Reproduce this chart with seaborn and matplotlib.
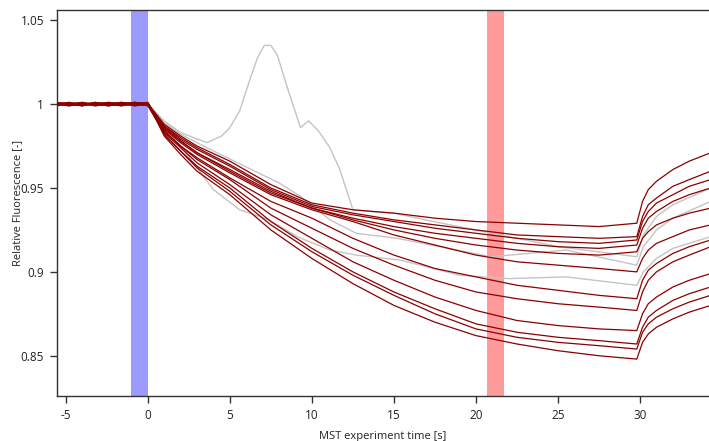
import numpy as np
import pandas as pd
import matplotlib
matplotlib.use("Agg")
import matplotlib.pyplot as plt
import seaborn as sns

# ---- data ----
red_times = [-5.6, -4.8, -4.0, -3.2, -2.4, -1.6, -0.8, 0.0,
             0.5, 1.0, 2.0, 3.0, 5.0, 7.5, 10.0, 12.5, 15.0, 17.5,
             20.0, 22.5, 25.0, 27.5, 29.8, 30.15, 30.5, 31.0, 32.0, 33.0, 34.3]

red_traces = {
    "R1":  [1.000, 1.001, 0.999, 1.001, 1.000, 0.999, 1.001, 1.000, 0.994, 0.988, 0.981, 0.975, 0.966, 0.952, 0.941, 0.937, 0.935, 0.932, 0.930, 0.929, 0.928, 0.927, 0.929, 0.942, 0.949, 0.954, 0.961, 0.966, 0.971],
    "R2":  [1.000, 0.999, 1.000, 1.000, 1.001, 1.000, 1.000, 1.000, 0.994, 0.987, 0.980, 0.974, 0.964, 0.950, 0.940, 0.935, 0.931, 0.928, 0.925, 0.922, 0.921, 0.920, 0.921, 0.933, 0.940, 0.944, 0.951, 0.955, 0.960],
    "R3":  [0.999, 1.000, 1.001, 1.000, 0.999, 1.001, 1.000, 1.001, 0.993, 0.987, 0.979, 0.973, 0.963, 0.949, 0.939, 0.934, 0.930, 0.926, 0.923, 0.920, 0.918, 0.917, 0.919, 0.930, 0.936, 0.941, 0.946, 0.951, 0.955],
    "R4":  [1.000, 1.000, 1.000, 0.999, 1.000, 1.000, 1.001, 1.000, 0.993, 0.986, 0.978, 0.971, 0.961, 0.948, 0.938, 0.932, 0.927, 0.923, 0.920, 0.917, 0.915, 0.914, 0.916, 0.926, 0.932, 0.936, 0.942, 0.946, 0.950],
    "R5":  [1.001, 1.000, 0.999, 1.000, 1.000, 1.001, 0.999, 1.000, 0.993, 0.986, 0.978, 0.971, 0.960, 0.947, 0.938, 0.931, 0.925, 0.920, 0.916, 0.913, 0.911, 0.910, 0.912, 0.920, 0.924, 0.928, 0.932, 0.935, 0.938],
    "R6":  [1.000, 1.000, 1.000, 1.001, 0.999, 1.000, 1.000, 1.001, 0.993, 0.985, 0.977, 0.970, 0.959, 0.946, 0.937, 0.930, 0.922, 0.916, 0.910, 0.906, 0.904, 0.902, 0.900, 0.908, 0.913, 0.917, 0.921, 0.925, 0.928],
    "R7":  [1.000, 1.001, 1.000, 1.000, 1.000, 0.999, 1.000, 1.000, 0.992, 0.984, 0.975, 0.968, 0.956, 0.942, 0.932, 0.920, 0.910, 0.902, 0.897, 0.892, 0.889, 0.886, 0.884, 0.895, 0.901, 0.905, 0.911, 0.915, 0.919],
    "R8":  [0.999, 1.000, 1.000, 1.000, 1.001, 1.000, 1.001, 1.000, 0.992, 0.984, 0.975, 0.967, 0.955, 0.938, 0.926, 0.914, 0.904, 0.895, 0.888, 0.884, 0.881, 0.879, 0.877, 0.888, 0.895, 0.900, 0.906, 0.910, 0.915],
    "R9":  [1.000, 1.000, 1.001, 0.999, 1.000, 1.000, 0.999, 1.000, 0.992, 0.983, 0.974, 0.965, 0.952, 0.934, 0.920, 0.906, 0.895, 0.885, 0.877, 0.871, 0.868, 0.866, 0.865, 0.875, 0.881, 0.885, 0.891, 0.895, 0.899],
    "R10": [1.000, 0.999, 1.000, 1.000, 1.000, 1.001, 1.000, 1.000, 0.991, 0.982, 0.972, 0.963, 0.950, 0.930, 0.914, 0.900, 0.888, 0.878, 0.869, 0.864, 0.861, 0.859, 0.857, 0.867, 0.873, 0.877, 0.883, 0.887, 0.891],
    "R11": [1.001, 1.000, 1.000, 1.000, 0.999, 1.000, 1.000, 0.999, 0.991, 0.982, 0.972, 0.962, 0.948, 0.928, 0.912, 0.898, 0.886, 0.875, 0.866, 0.861, 0.858, 0.856, 0.854, 0.864, 0.869, 0.873, 0.878, 0.882, 0.886],
    "R12": [1.000, 1.000, 0.999, 1.001, 1.000, 1.000, 1.001, 1.000, 0.991, 0.981, 0.970, 0.960, 0.946, 0.925, 0.908, 0.893, 0.880, 0.870, 0.862, 0.857, 0.853, 0.850, 0.848, 0.858, 0.863, 0.867, 0.872, 0.876, 0.880],
}

gray_spike_t = [-5.6, 0.0, 1.0, 2.0, 3.6, 4.5, 5.0, 5.6, 6.2, 6.7, 7.1, 7.5, 7.9, 8.5, 9.3, 9.8, 10.4, 11.1, 11.7, 12.5,
                13.5, 15.0, 17.4, 21.5, 25.0, 29.8, 30.2, 31.0, 32.0, 34.3]
gray_spike_v = [1.000, 1.000, 0.990, 0.983, 0.977, 0.981, 0.986, 0.996, 1.014, 1.028, 1.035, 1.035, 1.029, 1.010, 0.986, 0.990, 0.984, 0.974, 0.961, 0.937,
                0.936, 0.935, 0.930, 0.922, 0.915, 0.909, 0.922, 0.933, 0.940, 0.950]

gray_upper_t = [-5.6, 0.0, 1.0, 2.0, 3.6, 6.0, 8.0, 9.3, 11.1, 12.7, 15.2, 20.9, 25.5, 29.8, 30.2, 31.0, 32.0, 34.3]
gray_upper_v = [1.000, 1.000, 0.989, 0.982, 0.974, 0.9625, 0.953, 0.945, 0.931, 0.923, 0.920, 0.909, 0.913, 0.904, 0.915, 0.925, 0.932, 0.942]

gray_lower_t = [-5.6, 0.0, 1.0, 2.0, 4.0, 5.6, 7.4, 9.1, 11.1, 12.7, 15.4, 19.0, 22.0, 25.5, 29.8, 30.2, 31.0, 32.0, 34.3]
gray_lower_v = [1.000, 1.000, 0.986, 0.975, 0.949, 0.937, 0.931, 0.921, 0.913, 0.910, 0.907, 0.898, 0.896, 0.897, 0.892, 0.900, 0.908, 0.914, 0.921]

x_ticks = [-5, 0, 5, 10, 15, 20, 25, 30]
y_ticks = [0.85, 0.9, 0.95, 1.0, 1.05]
y_tick_labels = ["0.85", "0.9", "0.95", "1", "1.05"]

# ---- build long-form tables ----
red_rows = []
for name, vals in red_traces.items():
    for t, v in zip(red_times, vals):
        red_rows.append((name, t, v))
red_df = pd.DataFrame(red_rows, columns=["trace", "time", "value"])

gray_rows = []
for name, (ts, vs) in {"G1": (gray_spike_t, gray_spike_v),
                        "G2": (gray_upper_t, gray_upper_v),
                        "G3": (gray_lower_t, gray_lower_v)}.items():
    for t, v in zip(ts, vs):
        gray_rows.append((name, t, v))
gray_df = pd.DataFrame(gray_rows, columns=["trace", "time", "value"])

sns.set_style("white")
plt.rcParams["font.family"] = ["Open Sans", "DejaVu Sans"]

fig = plt.figure(figsize=(7.09, 4.41), dpi=100)
ax = fig.add_axes([0.080, 0.102, 0.920, 0.875])

ax.axvspan(-1.0, 0.0, color="#9b9bff", lw=0, zorder=0)
ax.axvspan(20.7, 21.7, color="#ff9b9b", lw=0, zorder=0)

sns.lineplot(data=gray_df, x="time", y="value", hue="trace",
             palette={k: "#c4c4c4" for k in gray_df["trace"].unique()},
             estimator=None, sort=False, legend=False, lw=1.0, ax=ax, zorder=2)
sns.lineplot(data=red_df, x="time", y="value", hue="trace",
             palette={k: "#8b0000" for k in red_df["trace"].unique()},
             estimator=None, sort=False, legend=False, lw=0.9, ax=ax, zorder=3)

ax.set_xlim(-5.55, 34.2)
ax.set_ylim(0.826, 1.056)
ax.set_xticks(x_ticks)
ax.set_xticklabels([str(t) for t in x_ticks])
ax.set_yticks(y_ticks)
ax.set_yticklabels(y_tick_labels)

for s in ["left", "bottom", "top"]:
    ax.spines[s].set_visible(True)
    ax.spines[s].set_color("#333333")
    ax.spines[s].set_linewidth(1.0)
ax.spines["right"].set_visible(False)

ax.tick_params(axis="both", which="major", direction="out", length=5, width=1,
               color="#333333", labelsize=8.5, labelcolor="#222222", pad=4)
ax.tick_params(top=False, right=False, bottom=True, left=True)

ax.set_xlabel("MST experiment time [s]", fontsize=8, color="#222222", labelpad=7)
ax.set_ylabel("Relative Fluorescence [-]", fontsize=8, color="#222222")
ax.yaxis.set_label_coords(-0.052, 0.5)

fig.savefig("out.png", dpi=100)
